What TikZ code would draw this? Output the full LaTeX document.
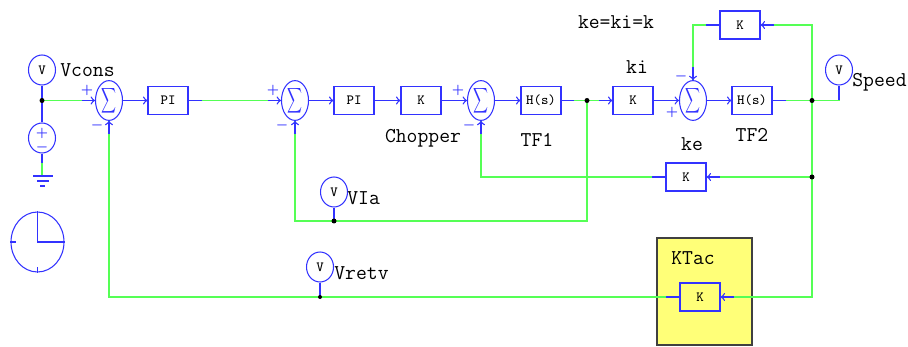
\documentclass[tikz,border=0pt]{standalone}
\usepackage{xcolor}
\usepackage{graphicx}
\usetikzlibrary{calc,shapes.geometric}

\definecolor{wiregreen}{RGB}{85,255,85}
\definecolor{partblue}{RGB}{50,50,255}
\definecolor{tacyellow}{RGB}{255,255,120}

\tikzset{
    wire/.style={draw=wiregreen,line width=0.75pt},
    stub/.style={draw=partblue,line width=0.75pt},
    gain/.style={draw=partblue,line width=0.75pt,minimum width=0.8cm,minimum height=0.56cm,inner sep=0pt,font=\ttfamily\fontsize{8}{8}\selectfont},
    sumnode/.style={draw=partblue,ellipse,line width=0.6pt,minimum width=0.54cm,minimum height=0.6cm,inner sep=0pt,text=partblue},
    probe/.style={draw=partblue,ellipse,line width=0.6pt,minimum width=0.54cm,minimum height=0.6cm,inner sep=0pt,font=\ttfamily\fontsize{8}{8}\selectfont},
    dot/.style={circle,fill=black,inner sep=0pt,minimum size=0.1cm},
    tag/.style={font=\ttfamily\fontsize{12}{12}\selectfont,inner sep=0pt},
    sign/.style={text=partblue,inner sep=0pt,font=\scriptsize\boldmath},
}
\newcommand{\sumsign}{\resizebox{8.5pt}{10.5pt}{$\displaystyle\sum$}}

\begin{document}
\begin{tikzpicture}[x=0.02cm,y=-0.02cm]
    \useasboundingbox (0,0) rectangle (908,347);

    % tachometer panel
    \node[draw=black!75,fill=tacyellow,line width=0.6pt,minimum width=1.9cm,minimum height=2.14cm,inner sep=0pt] (panel) at (704.5,291.5) {};

    % blocks
    \node[probe] (vcons) at (42,70) {V};
    \node[draw=partblue,ellipse,line width=0.6pt,minimum width=0.54cm,minimum height=0.6cm,inner sep=0pt] (source) at (42,138) {};
    \node[sumnode] (sum1) at (109,100.5) {\sumsign};
    \node[gain] (pi1) at (168,100.5) {PI};
    \node[sumnode] (sum2) at (295,100.5) {\sumsign};
    \node[gain] (pi2) at (354,100.5) {PI};
    \node[gain] (chopper) at (421,100.5) {K};
    \node[sumnode] (sum3) at (481,100.5) {\sumsign};
    \node[gain] (tf1) at (541,100.5) {H(s)};
    \node[gain] (ki) at (633,100.5) {K};
    \node[sumnode] (sum4) at (693,100.5) {\sumsign};
    \node[gain] (tf2) at (752,100.5) {H(s)};
    \node[gain] (kfb) at (740,25) {K};
    \node[gain] (ke) at (686,177) {K};
    \node[gain] (ktac) at (700,297) {K};
    \node[probe] (speed) at (839,70) {V};
    \node[probe] (via) at (334,192) {V};
    \node[probe] (vretv) at (320,267) {V};

    % junctions
    \coordinate (j1) at (42,100.5);
    \coordinate (j2) at (587,100.5);
    \coordinate (j3) at (812,100.5);
    \coordinate (j4) at (812,177);
    \coordinate (j5) at (334,221);
    \coordinate (j6) at (320,297);

    % green wires
    \draw[wire] (j1) -- (sum1.west);
    \draw[wire] (pi1.east) -- (sum2.west);
    \draw[wire] (tf1.east) -- (ki.west);
    \draw[wire] (tf2.east) -- (j3);
    \draw[wire] (j3) |- (kfb.east);
    \draw[wire] (kfb.west) -| (sum4.north);
    \draw[wire] (j3) |- (ktac.east);
    \draw[wire] (j4) -- (ke.east);
    \draw[wire] (ke.west) -| (sum3.south);
    \draw[wire] (j2) |- (j5);
    \draw[wire] (j5) -| (sum2.south);
    \draw[wire] (ktac.west) -- (j6) -| (sum1.south);
    \draw[wire] (j3) -| (speed.south);
    \coordinate (gnd) at (42,176);
    \draw[wire] (source.south) -- (gnd);

    % blue parts of the wires
    \foreach \a/\b in {sum1.east/pi1.west,sum2.east/pi2.west,pi2.east/chopper.west,chopper.east/sum3.west,sum3.east/tf1.west,ki.east/sum4.west,sum4.east/tf2.west}
    \draw[stub,->] (\a) -- (\b);
    \foreach \a/\dx/\dy in {sum1.west/-13/0,sum2.west/-13/0,ki.west/-13/0,sum1.south/0/13,sum2.south/0/13,sum3.south/0/13,sum4.north/0/-13,kfb.east/13/0,ke.east/13/0,ktac.east/13/0}
    \draw[stub,->] ($(\a)+(\dx,\dy)$) -- (\a);
    \foreach \a/\dx/\dy in {pi1.east/13/0,tf1.east/12/0,tf2.east/13/0,kfb.west/-13/0,ke.west/-13/0,ktac.west/-13/0,source.south/0/9}
    \draw[stub] (\a) -- ($(\a)+(\dx,\dy)$);
    \draw[stub] (vcons.south) -- (source.north);
    \draw[stub] (via.south) -- (j5);
    \draw[stub] (vretv.south) -- (j6);
    \draw[stub] (speed.south) -- (speed.south |- j3);

    % junction dots
    \foreach \j in {j1,j2,j3,j4,j5}
    \node[dot] at (\j) {};
    \node[dot,minimum size=0.08cm] at (j6) {};

    % ground
    \draw[stub] (33,176) -- (53,176);
    \draw[stub] (37,181) -- (49,181);
    \draw[stub] (40,186) -- (45,186);

    % source signs
    \node[sign] (splus) at (42,133) {$+$};
    \node[sign] (sminus) at (42,147) {$-$};

    % clock
    \node[draw=partblue,ellipse,line width=0.6pt,minimum width=1.06cm,minimum height=1.2cm,inner sep=0pt] (clock) at (37.5,242) {};
    \draw[stub] (clock.north) -- (clock.center) -- (clock.east);
    \draw[stub] (clock.west) -- ++(6,0);
    \draw[stub] (clock.south) -- ++(0,-6);

    % sum signs
    \foreach \x/\y/\s in {87/90/+,273/90/+,458/90/+,672/112/+,97/125/-,282/125/-,469/125/-,681/76/-}
    \node[sign] at (\x,\y) {$\s$};

    % labels
    \node[tag,anchor=west] (lvcons) at (60,70) {Vcons};
    \node[tag,anchor=west] (lspeed) at (852,82) {Speed};
    \node[tag,anchor=west] (lvia) at (347,198) {VIa};
    \node[tag,anchor=west] (lvretv) at (334,273) {Vretv};
    \node[tag] (lchopper) at (423,138) {Chopper};
    \node[tag] (ltf1) at (537,140) {TF1};
    \node[tag] (ltf2) at (752,135) {TF2};
    \node[tag] (lki) at (637,67) {ki};
    \node[tag] (lke) at (692,144) {ke};
    \node[tag] (lk) at (616,22) {ke=ki=k};
    \node[tag,anchor=west] (lktac) at (671,258) {KTac};
\end{tikzpicture}
\end{document}
